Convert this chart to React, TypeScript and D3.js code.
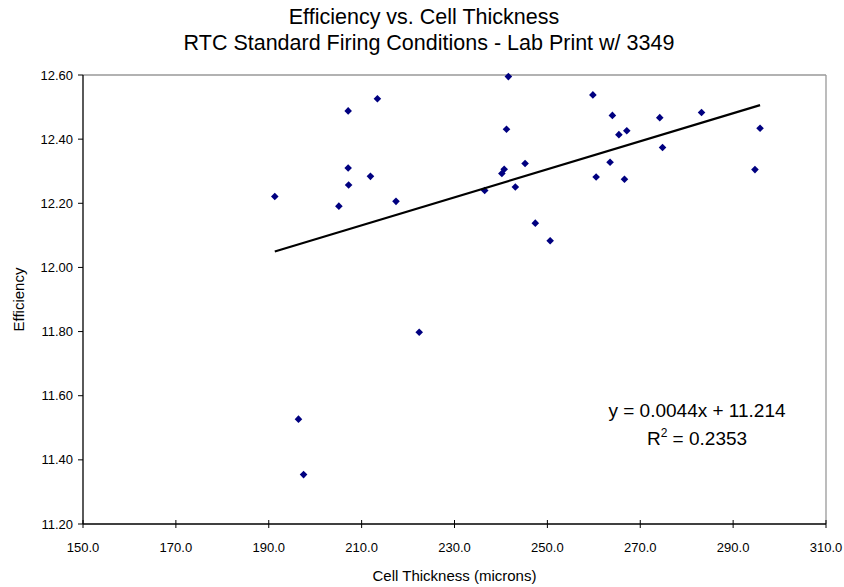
import React from "react";
import * as d3 from "d3";

const titleLines = ["Efficiency vs. Cell Thickness", "RTC Standard Firing Conditions - Lab Print w/ 3349"];
const xLabel = "Cell Thickness (microns)";
const yLabel = "Efficiency";
const xTicks = [150, 170, 190, 210, 230, 250, 270, 290, 310];
const yTicks = [11.2, 11.4, 11.6, 11.8, 12.0, 12.2, 12.4, 12.6];

const thickness = [
  213.4, 207.1, 207.1, 211.9, 207.2, 191.3, 205.1, 217.4,
  241.6, 259.8, 264.0, 241.2, 265.4, 267.1, 245.2, 240.7, 240.2, 263.5, 260.5, 266.6, 236.5, 243.1, 247.4, 250.6,
  274.2, 283.2, 295.8, 274.8, 294.7,
  222.4, 196.4, 197.5,
];
const efficiency = [
  12.526, 12.488, 12.310, 12.284, 12.257, 12.221, 12.191, 12.206,
  12.595, 12.538, 12.474, 12.431, 12.414, 12.426, 12.324, 12.306, 12.293, 12.328, 12.282, 12.275, 12.240, 12.251, 12.138, 12.083,
  12.467, 12.483, 12.434, 12.374, 12.305,
  11.798, 11.527, 11.354,
];
const slope = 0.00437;
const intercept = 11.2135;
const eqText = "y = 0.0044x + 11.214";
const r2Value = "0.2353";

const W = 844;
const H = 587;
const M = { left: 83, right: 826, top: 75, bottom: 524 };
const FONT = "'Liberation Sans', Arial, sans-serif";

export default function App() {
  const x = d3.scaleLinear().domain([150, 310]).range([M.left, M.right]);
  const y = d3.scaleLinear().domain([11.2, 12.6]).range([M.bottom, M.top]);
  const [xmin, xmax] = d3.extent(thickness) as [number, number];
  const line = d3.line<number>().x((d) => x(d)).y((d) => y(slope * d + intercept));
  const pts = thickness.map((t, i) => ({ t, e: efficiency[i] }));
  const s = 3.8;
  const diamond = `M0,${-s}L${s},0L0,${s}L${-s},0Z`;

  return (
    <svg width={W} height={H} style={{ position: "absolute", left: 0, top: 0, background: "#fff" }} fontFamily={FONT}>
      <rect x={0} y={0} width={W} height={H} fill="#fff" />
      <text x={424} y={24} textAnchor="middle" fontSize={21.5}>{titleLines[0]}</text>
      <text x={429} y={50} textAnchor="middle" fontSize={21.5}>{titleLines[1]}</text>
      {/* plot border */}
      <line x1={M.left} x2={M.right} y1={M.top} y2={M.top} stroke="#999" strokeWidth={1.3} />
      <line x1={M.right} x2={M.right} y1={M.top} y2={M.bottom} stroke="#999" strokeWidth={1.3} />
      <line x1={M.left} x2={M.right} y1={M.bottom} y2={M.bottom} stroke="#000" strokeWidth={1.3} />
      <line x1={M.left} x2={M.left} y1={M.top} y2={M.bottom} stroke="#000" strokeWidth={1.3} />
      {yTicks.map((v) => (
        <g key={v}>
          <line x1={M.left - 5} x2={M.left} y1={y(v)} y2={y(v)} stroke="#000" />
          <text x={M.left - 10} y={y(v)} dy="0.35em" textAnchor="end" fontSize={13}>{v.toFixed(2)}</text>
        </g>
      ))}
      {xTicks.map((v) => (
        <g key={v}>
          <line x1={x(v)} x2={x(v)} y1={M.bottom - 4} y2={M.bottom + 4} stroke="#000" />
          <text x={x(v)} y={M.bottom + 28} textAnchor="middle" fontSize={13}>{v.toFixed(1)}</text>
        </g>
      ))}
      <text x={(M.left + M.right) / 2} y={M.bottom + 57} textAnchor="middle" fontSize={15}>{xLabel}</text>
      <text transform={`translate(24,${(M.top + M.bottom) / 2}) rotate(-90)`} textAnchor="middle" fontSize={15}>{yLabel}</text>
      {pts.map((p, i) => (
        <path key={i} d={diamond} transform={`translate(${x(p.t)},${y(p.e)})`} fill="#000080" />
      ))}
      <path d={line([xmin, xmax]) || ""} fill="none" stroke="#000" strokeWidth={2.2} />
      <text x={697} y={417} textAnchor="middle" fontSize={19}>{eqText}</text>
      <text x={697} y={445} textAnchor="middle" fontSize={19}>
        R<tspan dy={-8} fontSize={12}>2</tspan><tspan dy={8}> = {r2Value}</tspan>
      </text>
    </svg>
  );
}
